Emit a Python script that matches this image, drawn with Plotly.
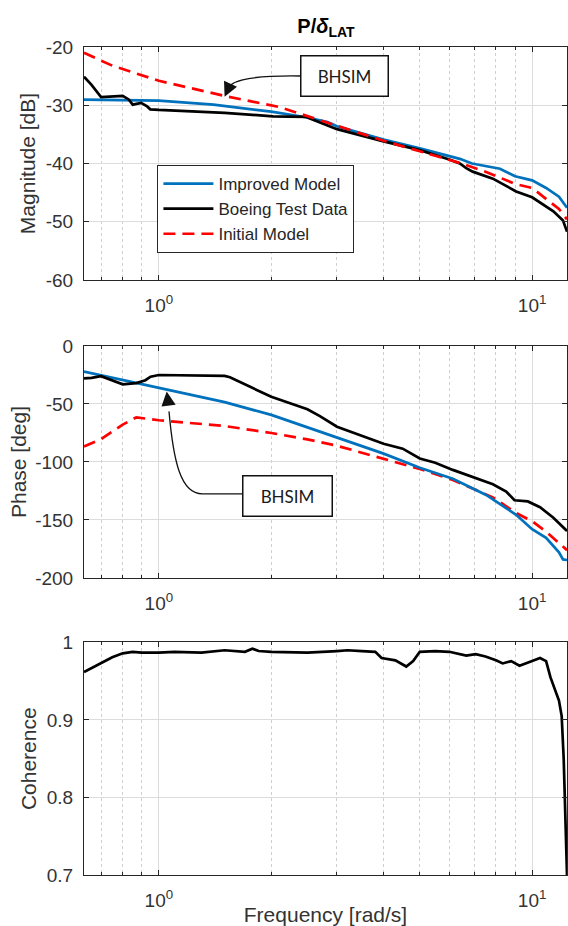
import math
import plotly.graph_objects as go

# ---------------- data ----------------
# Magnitude [dB]
mag_imp_f = [0.63, 0.8, 1.0, 1.4, 2.0, 2.5, 2.83, 3.0, 4.0, 5.0, 6.0, 6.4, 6.9, 7.5, 8.2, 9.0, 10.0, 10.9, 11.8, 12.4]
mag_imp = [-29.05, -29.1, -29.2, -29.9, -31.1, -32.1, -32.9, -33.6, -35.9, -37.4, -38.8, -39.2, -40.0, -40.4, -40.9, -42.2, -42.9, -44.2, -45.7, -47.6]

mag_test_f = [0.63, 0.66, 0.70, 0.76, 0.80, 0.83, 0.851, 0.896, 0.93, 0.948, 1.0, 1.5, 2.02, 2.48, 2.83, 3.0, 4.0, 5.0, 6.0, 6.4, 6.66, 6.93, 7.85, 9.06, 10.0, 11.4, 12.1, 12.4]
mag_test = [-25.1, -26.5, -28.6, -28.5, -28.4, -29.0, -29.9, -29.6, -30.2, -30.7, -30.8, -31.3, -31.9, -32.0, -33.5, -34.1, -36.2, -37.7, -39.3, -40.0, -40.8, -41.4, -42.6, -44.8, -45.8, -48.2, -49.8, -51.7]

mag_init_f = [0.63, 0.75, 1.0, 1.5, 2.1, 2.83, 4.0, 5.0, 6.4, 7.5, 9.0, 10.0, 10.9, 11.8, 12.4]
mag_init = [-21.0, -23.2, -25.8, -28.4, -30.3, -33.0, -36.1, -37.9, -39.9, -41.4, -43.5, -44.2, -46.0, -47.8, -49.6]

# Phase [deg]
ph_imp_f = [0.63, 1.0, 1.5, 2.0, 2.5, 3.0, 3.66, 4.0, 5.0, 6.13, 7.53, 9.06, 10.0, 10.9, 11.8, 12.1, 12.4]
ph_imp = [-22.0, -36.2, -48.4, -59.4, -70.0, -78.8, -88.0, -92.8, -105.0, -114.5, -128.4, -145.5, -158.0, -165.4, -177.8, -184.0, -184.5]

ph_test_f = [0.63, 0.66, 0.70, 0.75, 0.80, 0.87, 0.92, 0.95, 1.0, 1.5, 1.55, 2.0, 2.5, 2.7, 3.0, 4.0, 4.5, 5.0, 5.5, 6.13, 6.93, 7.85, 8.52, 8.97, 9.74, 10.5, 11.4, 12.4]
ph_test = [-28.0, -27.5, -26.0, -29.5, -33.0, -32.0, -29.5, -26.5, -25.0, -25.8, -27.0, -43.8, -54.5, -60.5, -69.6, -84.3, -88.5, -97.0, -100.6, -106.8, -113.0, -119.2, -125.4, -133.0, -134.0, -139.0, -148.0, -159.5]

ph_init_f = [0.63, 0.70, 0.80, 0.87, 1.0, 1.5, 2.0, 2.5, 3.0, 3.9, 5.0, 6.13, 7.06, 7.85, 9.06, 10.0, 10.9, 11.8, 12.4]
ph_init = [-86.6, -80.3, -67.8, -61.5, -64.0, -69.0, -75.0, -80.5, -86.0, -96.0, -106.0, -115.5, -123.8, -130.5, -144.0, -151.0, -160.0, -170.0, -176.0]

# Coherence
coh_f = [0.63, 0.66, 0.70, 0.75, 0.80, 0.85, 0.9, 1.0, 1.1, 1.3, 1.5, 1.7, 1.78, 1.85, 2.0, 2.5, 3.0, 3.2, 3.5, 3.8,
         3.95, 4.3, 4.6, 4.8, 5.0, 5.5, 6.0, 6.66, 7.06, 7.5, 8.0, 8.34, 8.79, 9.25, 10.0, 10.5, 10.9, 11.2, 11.8,
         12.0, 12.15, 12.3, 12.4]
coh = [0.962, 0.967, 0.973, 0.981, 0.986, 0.988, 0.987, 0.987, 0.988, 0.987, 0.990, 0.988, 0.992, 0.989, 0.988,
       0.987, 0.989, 0.990, 0.989, 0.988, 0.980, 0.977, 0.969, 0.976, 0.988, 0.989, 0.988, 0.983, 0.985, 0.982,
       0.977, 0.973, 0.976, 0.970, 0.976, 0.980, 0.976, 0.955, 0.925, 0.905, 0.85, 0.77, 0.70]

names = ["Improved Model", "Boeing Test Data", "Initial Model"]
x_range = [0.63, 12.4]
xtick_vals = [1, 10]
xtick_text = ["10<sup>0</sup>", "10<sup>1</sup>"]
minor_vals = [0.7, 0.8, 0.9, 2, 3, 4, 5, 6, 7, 8, 9]
mag_ticks = [-60, -50, -40, -30, -20]
ph_ticks = [-200, -150, -100, -50, 0]
coh_ticks = [0.7, 0.8, 0.9, 1.0]
coh_ticktext = ["0.7", "0.8", "0.9", "1"]

# ---------------- styling ----------------
BLUE = "#0072BD"
BLACK = "#000000"
RED = "#FF0000"
AXC = "#262626"
FONT = "Liberation Sans, Arial, sans-serif"
LW = 2.7
DASH = "12px,7px"

fig = go.Figure()

def line(x, y, ax, color, dash, name, show):
    fig.add_trace(go.Scatter(
        x=x, y=y, mode="lines", name=name, showlegend=show,
        line=dict(color=color, width=LW, dash=dash),
        xaxis="x" + ax, yaxis="y" + ax, hoverinfo="skip"))

line(mag_imp_f, mag_imp, "", BLUE, "solid", names[0], True)
line(mag_test_f, mag_test, "", BLACK, "solid", names[1], True)
line(mag_init_f, mag_init, "", RED, DASH, names[2], True)

line(ph_init_f, ph_init, "2", RED, DASH, names[2], False)
line(ph_imp_f, ph_imp, "2", BLUE, "solid", names[0], False)
line(ph_test_f, ph_test, "2", BLACK, "solid", names[1], False)

line(coh_f, coh, "3", BLACK, "solid", "Coherence", False)

def xaxis(anchor, title=None):
    d = dict(
        type="log", range=[math.log10(x_range[0]), math.log10(x_range[1])],
        anchor=anchor, tickvals=xtick_vals, ticktext=xtick_text,
        ticks="inside", ticklen=5, tickcolor=AXC, tickwidth=1,
        showline=True, linecolor=AXC, linewidth=1, mirror="ticks",
        showgrid=True, gridcolor="#dcdcdc", gridwidth=1,
        tickfont=dict(family=FONT, size=19, color="#333333"),
        ticklabelstandoff=8, automargin=False,
        zeroline=False,
        minor=dict(tickvals=minor_vals, ticks="inside", ticklen=3, tickcolor=AXC,
                   showgrid=True, gridcolor="#cfcfcf", griddash="dot", gridwidth=1),
    )
    if title:
        d["title"] = dict(text=title, font=dict(family=FONT, size=21, color="#333333"), standoff=2)
    return d

def yaxis(anchor, domain, rng, vals, text, title, standoff):
    return dict(
        domain=domain, anchor=anchor, range=rng, tickvals=vals, ticktext=text,
        ticks="inside", ticklen=5, tickcolor=AXC, tickwidth=1,
        showline=True, linecolor=AXC, linewidth=1, mirror="ticks",
        showgrid=True, gridcolor="#dcdcdc", gridwidth=1, zeroline=False,
        tickfont=dict(family=FONT, size=19, color="#333333"),
        ticklabelstandoff=6, automargin=False,
        title=dict(text=title, font=dict(family=FONT, size=21, color="#333333"), standoff=standoff),
    )

fig.update_layout(
    width=568, height=926,
    margin=dict(l=84, r=1, t=47, b=51),
    paper_bgcolor="white", plot_bgcolor="white",
    showlegend=True,
    xaxis=xaxis("y"),
    yaxis=yaxis("x", [0.7186, 1.0], [-60, -20], mag_ticks, [str(v) for v in mag_ticks], "Magnitude [dB]", 4),
    xaxis2=xaxis("y2"),
    yaxis2=yaxis("x2", [0.3587, 0.6389], [-200, 0], ph_ticks, [str(v) for v in ph_ticks], "Phase [deg]", 2),
    xaxis3=xaxis("y3", "Frequency [rad/s]"),
    yaxis3=yaxis("x3", [0.0, 0.2808], [0.7, 1.0], coh_ticks, coh_ticktext, "Coherence", 4),
    title=dict(text="<b>P/</b><b><i>δ</i></b><b><sub>LAT</sub></b>",
               x=0.501, xref="paper", y=0.972, yref="container", yanchor="middle",
               font=dict(family=FONT, size=20, color="#000000")),
    legend=dict(x=0.152, y=0.8575, xanchor="left", yanchor="top",
                bgcolor="white", bordercolor=AXC, borderwidth=1,
                font=dict(family=FONT, size=17, color="#262626"),
                itemwidth=50, tracegroupgap=0),
)

# ---------------- BHSIM callouts ----------------
box_font = dict(family="Lato, Open Sans, sans-serif", size=17, color="#1a1a1a")
fig.add_annotation(xref="x domain", yref="y domain", x=0.540, y=0.876, xanchor="center", yanchor="middle",
                   text="BHSIM", showarrow=False, bgcolor="white", bordercolor="#111111", borderwidth=1.5,
                   width=84, height=37, borderpad=1, font=box_font)
fig.add_annotation(xref="x2 domain", yref="y2 domain", x=0.4217, y=0.355, xanchor="center", yanchor="middle",
                   text="BHSIM", showarrow=False, bgcolor="white", bordercolor="#111111", borderwidth=1.5,
                   width=86, height=37, borderpad=1, font=box_font)

# curved leader lines
fig.add_shape(type="path", xref="paper", yref="paper",
              path="M 0.4487,0.9650 C 0.33,0.966 0.298,0.958 0.295,0.946",
              line=dict(color="#111111", width=1.3))
fig.add_shape(type="path", xref="paper", yref="paper",
              path="M 0.3288,0.4604 L 0.245,0.4604 C 0.20,0.4604 0.185,0.50 0.176,0.56",
              line=dict(color="#111111", width=1.3))
# arrow heads
fig.add_annotation(xref="paper", yref="paper", x=0.2911, y=0.9399, ax=5, ay=-11, text="",
                   showarrow=True, arrowhead=2, arrowsize=2.2, arrowwidth=1.3, arrowcolor="#111111")
fig.add_annotation(xref="paper", yref="paper", x=0.1712, y=0.5840, ax=2, ay=15, text="",
                   showarrow=True, arrowhead=2, arrowsize=2.2, arrowwidth=1.3, arrowcolor="#111111")

fig.write_html("out.html", config={"displayModeBar": False},
               post_script="document.body.style.margin='0';document.body.style.overflow='hidden';")
